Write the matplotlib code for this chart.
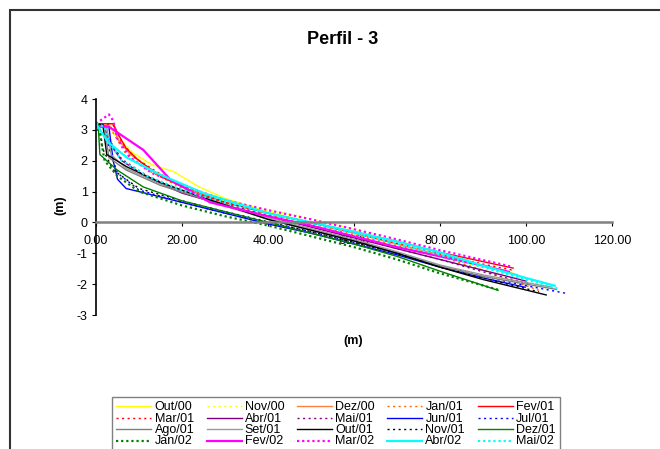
import matplotlib
matplotlib.use("Agg")
import matplotlib.pyplot as plt
from matplotlib.patches import Rectangle

plt.rcParams['font.family'] = ['Liberation Sans', 'DejaVu Sans']
plt.rcParams['axes.unicode_minus'] = False

labels = ["Out/00", "Nov/00", "Dez/00", "Jan/01", "Fev/01",
          "Mar/01", "Abr/01", "Mai/01", "Jun/01", "Jul/01",
          "Ago/01", "Set/01", "Out/01", "Nov/01", "Dez/01",
          "Jan/02", "Fev/02", "Mar/02", "Abr/02", "Mai/02"]

x_out00 = [0, 3, 4, 8, 13, 18, 24, 30, 40, 50, 60, 70, 80, 90, 97]
y_out00 = [3.2, 3.2, 2.9, 2.3, 1.87, 1.65, 1.15, 0.78, 0.35, 0.0, -0.35, -0.7, -1.05, -1.4, -1.65]
x_nov00 = [0, 4, 5, 10, 15, 22, 30, 40, 50, 60, 70, 80, 90, 95]
y_nov00 = [3.2, 3.2, 2.8, 2.05, 1.5, 1.05, 0.7, 0.4, 0.12, -0.22, -0.58, -1.0, -1.5, -1.9]
x_dez00 = [0, 4, 5, 8, 14, 20, 30, 40, 50, 60, 70, 80, 90, 98]
y_dez00 = [3.2, 3.2, 2.7, 2.2, 1.6, 1.15, 0.65, 0.3, 0.0, -0.35, -0.7, -1.05, -1.4, -1.7]
x_jan01 = [0, 3, 4, 7, 12, 20, 30, 40, 50, 60, 70, 80, 90, 103]
y_jan01 = [3.2, 3.2, 2.9, 2.2, 1.7, 1.1, 0.6, 0.25, -0.05, -0.4, -0.75, -1.1, -1.55, -2.2]
x_fev01 = [0, 4, 5, 7, 10, 15, 23, 30, 40, 50, 60, 70, 80, 97]
y_fev01 = [3.2, 3.2, 2.9, 2.4, 2.0, 1.5, 0.95, 0.65, 0.3, 0.0, -0.3, -0.62, -0.97, -1.48]
x_mar01 = [0, 4, 6, 9, 14, 20, 30, 40, 50, 60, 70, 80, 90, 97]
y_mar01 = [3.2, 3.15, 2.6, 2.1, 1.65, 1.2, 0.65, 0.3, -0.02, -0.33, -0.68, -1.02, -1.35, -1.55]
x_abr01 = [0, 2, 3, 6, 12, 20, 30, 40, 50, 60, 70, 80, 90, 100]
y_abr01 = [3.2, 3.1, 2.6, 2.0, 1.45, 0.95, 0.55, 0.2, -0.15, -0.5, -0.85, -1.2, -1.55, -1.9]
x_mai01 = [0, 2, 3, 6, 12, 20, 30, 40, 50, 60, 70, 80, 90, 101]
y_mai01 = [3.2, 3.15, 2.7, 2.05, 1.5, 1.0, 0.6, 0.22, -0.12, -0.47, -0.85, -1.2, -1.6, -2.0]
x_jun01 = [0, 3, 4, 5, 7, 12, 20, 30, 40, 50, 60, 70, 80, 90, 99.8]
y_jun01 = [3.2, 3.1, 2.0, 1.4, 1.1, 0.93, 0.65, 0.3, -0.05, -0.35, -0.7, -1.05, -1.45, -1.8, -2.1]
x_jul01 = [0, 2, 3, 5, 10, 20, 30, 40, 50, 60, 70, 80, 90, 100, 109.4]
y_jul01 = [3.2, 3.15, 2.4, 1.6, 1.05, 0.65, 0.3, 0.0, -0.3, -0.65, -1.0, -1.4, -1.75, -2.05, -2.3]
x_ago01 = [0, 2, 3, 7, 15, 24, 40, 50, 60, 70, 80, 90, 100, 107]
y_ago01 = [3.2, 3.1, 2.1, 1.7, 1.2, 0.8, 0.1, -0.25, -0.6, -1.0, -1.42, -1.75, -2.0, -2.17]
x_set01 = [0, 2.5, 3.5, 7, 15, 24, 40, 50, 60, 70, 80, 90, 100, 106]
y_set01 = [3.2, 3.1, 2.2, 1.75, 1.25, 0.85, 0.15, -0.2, -0.55, -0.95, -1.38, -1.7, -1.95, -2.1]
x_out01 = [0, 1.6, 2.5, 7.2, 14.9, 24, 40, 50, 60, 70, 80, 90, 104.7]
y_out01 = [3.2, 3.15, 2.2, 1.8, 1.3, 0.85, 0.1, -0.25, -0.6, -1.0, -1.45, -1.85, -2.35]
x_nov01 = [0, 1, 1.5, 4, 10, 20, 30, 40, 50, 60, 70, 80, 90, 103]
y_nov01 = [3.2, 3.0, 2.4, 1.7, 1.1, 0.7, 0.35, 0.02, -0.3, -0.65, -1.0, -1.45, -1.8, -2.25]
x_dez01 = [0, 0.5, 0.9, 4.9, 11, 20, 30, 40, 50, 60, 70, 80, 93.5]
y_dez01 = [3.2, 3.2, 2.2, 1.7, 1.15, 0.7, 0.35, 0.0, -0.35, -0.7, -1.1, -1.58, -2.2]
x_jan02 = [0, 1, 2, 5, 10, 20, 30, 40, 50, 60, 70, 80, 94]
y_jan02 = [3.2, 2.8, 2.0, 1.5, 1.0, 0.55, 0.2, -0.1, -0.45, -0.8, -1.2, -1.65, -2.2]
x_fev02 = [0, 3, 11, 17.2, 26.5, 40, 50, 60, 70, 80, 90, 96]
y_fev02 = [3.1, 3.1, 2.35, 1.4, 0.65, 0.2, -0.1, -0.45, -0.8, -1.1, -1.4, -1.6]
x_mar02 = [0, 2, 3, 4, 5, 8, 13, 20, 30, 40, 50, 60, 70, 80, 96.3]
y_mar02 = [3.2, 3.4, 3.5, 3.3, 2.7, 2.1, 1.6, 1.2, 0.72, 0.4, 0.1, -0.22, -0.55, -0.9, -1.42]
x_abr02 = [0, 2.8, 7.2, 14.9, 25, 40, 50, 60, 70, 80, 90, 100, 106.7]
y_abr02 = [3.2, 2.6, 2.1, 1.55, 0.95, 0.3, 0.0, -0.3, -0.62, -0.97, -1.4, -1.8, -2.05]
x_mai02 = [0, 2, 3, 6, 12, 20, 30, 40, 50, 60, 70, 80, 90, 100, 107.5]
y_mai02 = [3.2, 3.1, 2.6, 2.0, 1.5, 1.05, 0.65, 0.3, -0.02, -0.35, -0.7, -1.05, -1.45, -1.85, -2.15]

xs = [x_out00, x_nov00, x_dez00, x_jan01, x_fev01, x_mar01, x_abr01, x_mai01,
      x_jun01, x_jul01, x_ago01, x_set01, x_out01, x_nov01, x_dez01, x_jan02,
      x_fev02, x_mar02, x_abr02, x_mai02]
ys = [y_out00, y_nov00, y_dez00, y_jan01, y_fev01, y_mar01, y_abr01, y_mai01,
      y_jun01, y_jul01, y_ago01, y_set01, y_out01, y_nov01, y_dez01, y_jan02,
      y_fev02, y_mar02, y_abr02, y_mai02]

colors = ["#FFFF00", "#FFFF00", "#FF8040", "#FF6600", "#FF0000",
          "#FF0000", "#800080", "#800080", "#0000FF", "#0000FF",
          "#808080", "#999999", "#000000", "#000000", "#008000",
          "#008000", "#FF00FF", "#FF00FF", "#00FFFF", "#00FFFF"]
dotted = [False, True, False, True, False, True, False, True, False, True,
          False, False, False, True, False, True, False, True, False, True]
thick = [False] * 15 + [True] * 5

fig = plt.figure(figsize=(6.6, 4.49), dpi=100)
ax = fig.add_axes([96 / 660, 1 - 315 / 449, 516 / 660, 216 / 449])

handles = []
for x, y, c, d, t, lab in zip(xs, ys, colors, dotted, thick, labels):
    lw = 1.6 if t else 1.0
    if d:
        ls = (0, (1, 1.3)) if t else (0, (1.5, 2.5))
    else:
        ls = '-'
    h, = ax.plot(x, y, color=c, lw=lw, linestyle=ls, label=lab)
    handles.append(h)

ax.set_xlim(0, 120)
ax.set_ylim(-3, 4)
ax.set_xticks([0, 20, 40, 60, 80, 100, 120])
ax.set_xticklabels(["0.00", "20.00", "40.00", "60.00", "80.00", "100.00", "120.00"])
ax.set_yticks(range(-3, 5))
for s in ['top', 'right']:
    ax.spines[s].set_visible(False)
ax.spines['bottom'].set_position(('data', 0))
ax.spines['bottom'].set_color('#808080')
ax.spines['bottom'].set_linewidth(1.8)
ax.spines['left'].set_color('black')
ax.spines['left'].set_linewidth(1.2)
ax.tick_params(axis='x', direction='out', length=3, color='black', labelsize=9, pad=6)
ax.tick_params(axis='y', direction='out', length=3, color='black', labelsize=9, pad=3)

fig.text(343 / 660, 1 - 40 / 449, "Perfil - 3", ha='center', va='center',
         fontsize=13, fontweight='bold')
fig.text(60 / 660, 1 - 205 / 449, "(m)", ha='center', va='center',
         fontsize=9, fontweight='bold', rotation=90)
fig.text(353 / 660, 1 - 341 / 449, "(m)", ha='center', va='center',
         fontsize=9, fontweight='bold')

order = [r * 5 + c for c in range(5) for r in range(4)]
leg = fig.legend([handles[i] for i in order], [labels[i] for i in order],
                 ncol=5, loc='upper left',
                 bbox_to_anchor=(112 / 660, 1 - 397 / 449),
                 bbox_transform=fig.transFigure, borderaxespad=0,
                 fontsize=9, handlelength=2.8, handletextpad=0.25,
                 handleheight=0.5,
                 columnspacing=1.0, labelspacing=-0.05, borderpad=0.35,
                 frameon=True, fancybox=False)
leg.get_frame().set_edgecolor('#606060')
leg.get_frame().set_linewidth(1.0)

fig.patches.append(Rectangle((9.5 / 660, -0.1), 1.5, (449 - 10.5) / 449 + 0.1,
                             transform=fig.transFigure, fill=False,
                             edgecolor='#333333', linewidth=1.5))

fig.savefig("out.png", dpi=100)
